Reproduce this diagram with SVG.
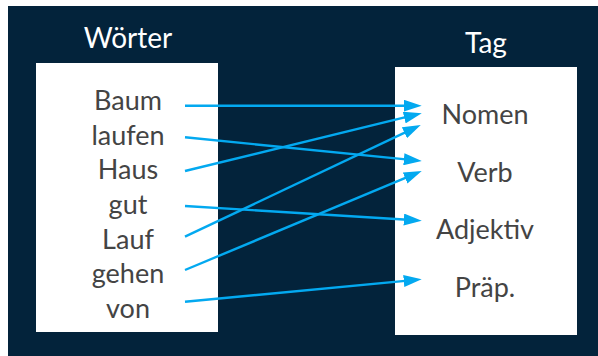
<svg xmlns="http://www.w3.org/2000/svg" width="598" height="356" viewBox="0 0 598 356">
<defs>
<style>
.title{font-family:Lato,"Open Sans",sans-serif;font-size:28px;fill:#ffffff;text-anchor:middle}
.word{font-family:Lato,"Open Sans",sans-serif;font-size:27px;fill:#444444;text-anchor:middle}
.box{fill:#ffffff}
.conn line{stroke:#03A9F0;stroke-width:2.4;fill:none;marker-end:url(#ah)}
</style>
<marker id="ah" markerUnits="userSpaceOnUse" markerWidth="18" markerHeight="12" refX="12" refY="6" orient="auto">
<path d="M0,0 L18,6 L0,12 Z" fill="#03A9F0"/>
</marker>
</defs>
<rect x="0" y="0" width="598" height="356" fill="#ffffff"/>
<rect x="8" y="6" width="590" height="350" fill="#03233B"/>
<g id="woerter">
<text class="title" x="128" y="48">Wörter</text>
<rect class="box" x="36" y="63" width="182" height="269"/>
<text class="word" x="128" y="110">Baum</text>
<text class="word" x="128" y="144.7">laufen</text>
<text class="word" x="128" y="179.3">Haus</text>
<text class="word" x="128" y="214">gut</text>
<text class="word" x="128" y="248.7">Lauf</text>
<text class="word" x="128" y="283.3">gehen</text>
<text class="word" x="128" y="318">von</text>
</g>
<g id="tag">
<text class="title" x="486" y="53">Tag</text>
<rect class="box" x="395" y="67" width="182" height="268"/>
<text class="word" x="485" y="124">Nomen</text>
<text class="word" x="485" y="181.7">Verb</text>
<text class="word" x="485" y="239.3">Adjektiv</text>
<text class="word" x="485" y="297">Präp.</text>
</g>
<g class="conn" id="connectors">
<line x1="185" y1="105.7" x2="415.7" y2="105.7"/>
<line x1="185" y1="137.3" x2="415.8" y2="160.4"/>
<line x1="185" y1="171" x2="415.9" y2="114.7"/>
<line x1="185" y1="206" x2="415.8" y2="220.3"/>
<line x1="185" y1="236.7" x2="415.3" y2="127.6"/>
<line x1="185" y1="270" x2="416.2" y2="173.4"/>
<line x1="185" y1="301.7" x2="415.7" y2="279.9"/>
</g>
</svg>
